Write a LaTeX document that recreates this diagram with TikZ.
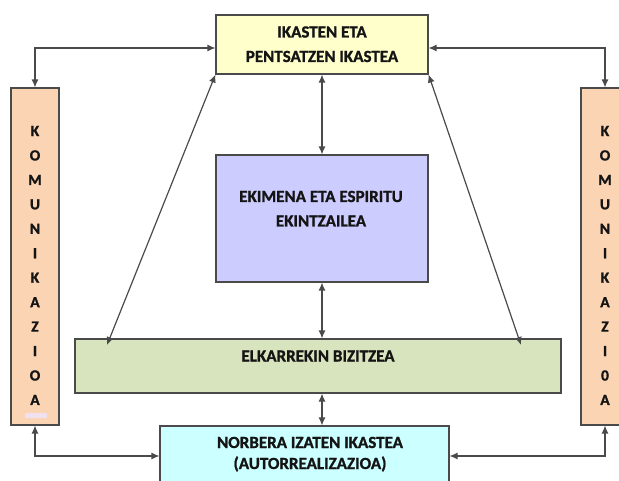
\documentclass[tikz,border=0pt]{standalone}
\usepackage{fontspec}
\setmainfont{Carlito}[BoldFeatures={FakeBold=1.2}]
\usetikzlibrary{arrows.meta,calc}
\definecolor{cyel}{HTML}{FFFFCC}
\definecolor{cpur}{HTML}{CCCCFF}
\definecolor{cgrn}{HTML}{D7E4BD}
\definecolor{ccyn}{HTML}{CCFFFF}
\definecolor{corg}{HTML}{FBD4B4}
\definecolor{cline}{HTML}{4A4A4A}
\definecolor{ctxt}{HTML}{141414}
\tikzset{
  box/.style={draw=cline, line width=1.1pt, inner sep=0pt},
  lbl/.style={font=\bfseries\fontsize{17}{24.5}\selectfont, text=ctxt, align=center, inner sep=0pt},
  letter/.style={font=\bfseries\fontsize{15.5}{15.5}\selectfont, text=ctxt, inner sep=0pt},
  link/.style={draw=cline, line width=1.2pt, {Latex[length=8pt,width=7pt]}-{Latex[length=8pt,width=7pt]}}
}
\begin{document}
\begin{tikzpicture}[x=1pt,y=-1pt]
\useasboundingbox (0,0) rectangle (619,481);
% boxes
\node[box, fill=cyel, minimum width=212pt, minimum height=59pt] (top) at (322,44.5) {};
\node[box, fill=cpur, minimum width=212pt, minimum height=127pt] (mid) at (322,218.5) {};
\node[box, fill=cgrn, minimum width=486pt, minimum height=54pt] (grn) at (318,366) {};
\node[box, fill=ccyn, minimum width=289pt, minimum height=60pt] (cyn) at (304.5,456) {};
\node[box, fill=corg, minimum width=48pt, minimum height=337pt] (lft) at (35,256.5) {};
\node[box, fill=corg, minimum width=49pt, minimum height=337pt] (rgt) at (605.5,256.5) {};
\fill[fill=violet!12, rounded corners=1pt] (25,413) rectangle (47,418);
% labels
\node[lbl, anchor=base] (ttop) at (322,62) {IKASTEN ETA\\PENTSATZEN IKASTEA};
\node[lbl, anchor=base] (tmid) at (321,226.5) {EKIMENA ETA ESPIRITU\\EKINTZAILEA};
\node[lbl, anchor=base] (tgrn) at (318,361.5) {ELKARREKIN BIZITZEA};
\node[lbl, anchor=base, font=\bfseries\fontsize{17}{21}\selectfont] (tcyn) at (310,469) {NORBERA IZATEN IKASTEA\\(AUTORREALIZAZIOA)};
\foreach \ch [count=\i] in {K,O,M,U,N,I,K,A,Z,I,O,A}{
  \node[letter] (l\i) at (35,{131+(\i-1)*24.45}) {\ch};
}
\foreach \ch [count=\i] in {K,O,M,U,N,I,K,A,Z,I,0,A}{
  \node[letter] (r\i) at (605,{131+(\i-1)*24.45}) {\ch};
}
% connectors
\coordinate (gl) at (107,345);
\coordinate (gr) at (521,345);
\draw[link] (top.south) -- (mid.north);
\draw[link] (mid.south) -- (mid.south |- grn.north);
\draw[link] (grn.south -| mid.south) -- (cyn.north -| mid.south);
\draw[link] (top.south west) -- (gl);
\draw[link] (top.south east) -- (gr);
\draw[link] ([yshift=-3.5pt]top.west) -| (lft.north);
\draw[link] ([yshift=-3.5pt]top.east) -| ([xshift=-0.5pt]rgt.north);
\draw[link] (lft.south) |- (cyn.west);
\draw[link] ([xshift=-0.5pt]rgt.south) |- (cyn.east);
\end{tikzpicture}
\end{document}
